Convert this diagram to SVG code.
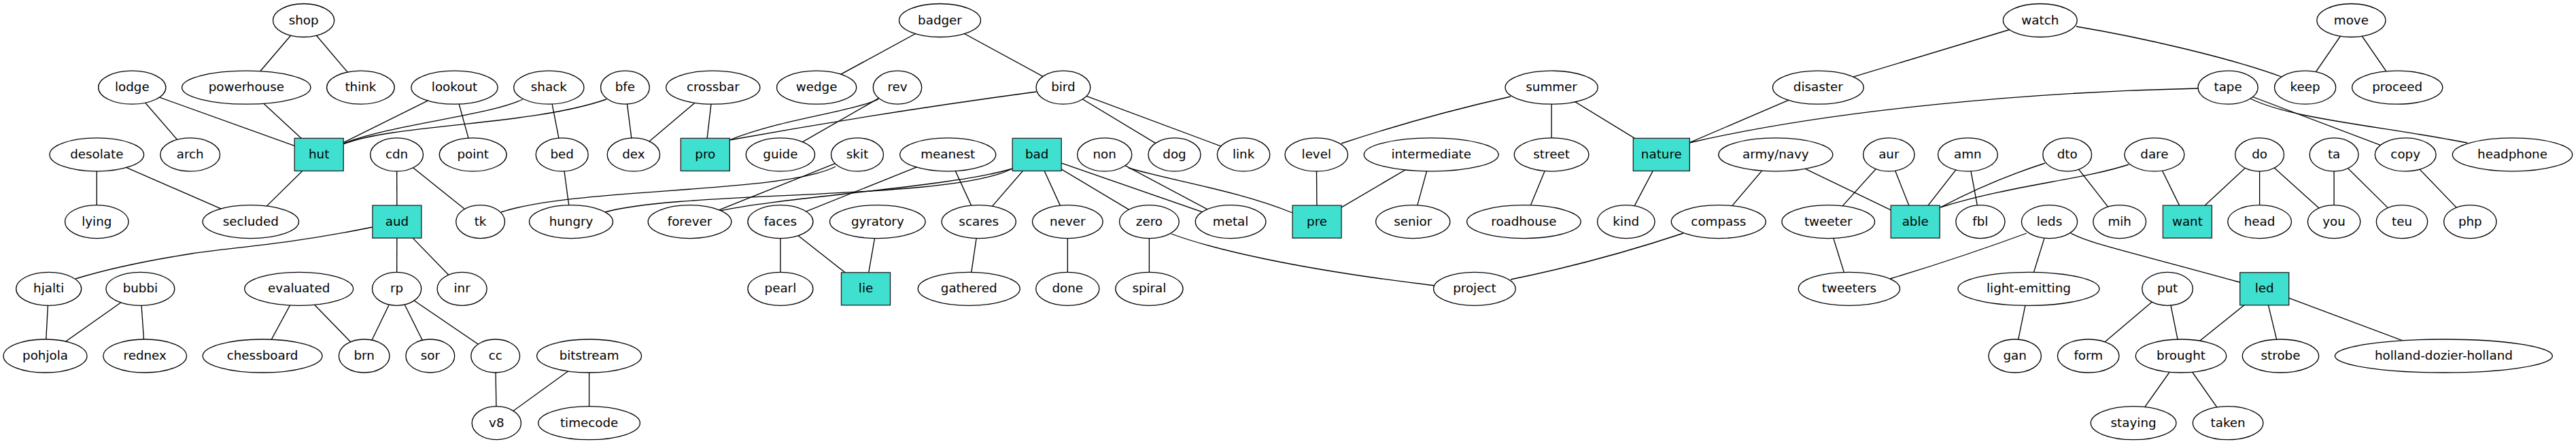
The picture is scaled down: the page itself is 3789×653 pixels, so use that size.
<svg xmlns="http://www.w3.org/2000/svg" width="3789" height="653" viewBox="0 0 3789 653">
<style>
.e path{fill:none;stroke:#000;stroke-width:1.33}
.n ellipse{fill:#fff;stroke:#000;stroke-width:1.33}
.b rect{fill:#40e0d0;stroke:#222;stroke-width:1.33}
text{font-family:"DejaVu Sans","Liberation Sans",sans-serif;font-size:18.3px;text-anchor:middle;fill:#000}
</style>
<rect width="3789" height="653" fill="#fff"/>
<g id="connectors" class="e">
<path d="M446.6,30L362.3,128.7"/>
<path d="M446.6,30L530.4,128.7"/>
<path d="M194.3,128.7L279.7,227.4"/>
<path d="M194.3,128.7L469.2,227.4"/>
<path d="M362.3,128.7L469.2,227.4"/>
<path d="M668.5,128.7L469.2,227.4"/>
<path d="M668.5,128.7L695.7,227.4"/>
<path d="M807.3,128.7L826.7,227.4"/>
<path d="M919.4,128.7L931.9,227.4"/>
<path d="M1048.8,128.7L931.9,227.4"/>
<path d="M1048.8,128.7L1037.3,227.4"/>
<path d="M1382.5,30L1201.1,128.7"/>
<path d="M1382.5,30L1563.9,128.7"/>
<path d="M1320,128.7L1147.9,227.4"/>
<path d="M1563.9,128.7L1727.5,227.4"/>
<path d="M1563.9,128.7L1829.1,227.4"/>
<path d="M469.2,227.4L368.8,326.1"/>
<path d="M142.3,227.4L142.3,326.1"/>
<path d="M142.3,227.4L368.8,326.1"/>
<path d="M583.6,227.4L583.9,326.1"/>
<path d="M583.6,227.4L706.6,326.1"/>
<path d="M583.9,326.1L583.6,424.8"/>
<path d="M583.9,326.1L679.6,424.8"/>
<path d="M71.7,424.8L66.5,523.5"/>
<path d="M206.4,424.8L66.5,523.5"/>
<path d="M206.4,424.8L213.2,523.5"/>
<path d="M439.7,424.8L386.1,523.5"/>
<path d="M439.7,424.8L535.7,523.5"/>
<path d="M583.6,424.8L535.7,523.5"/>
<path d="M583.6,424.8L632.8,523.5"/>
<path d="M583.6,424.8L728.7,523.5"/>
<path d="M728.7,523.5L730.3,622.2"/>
<path d="M866.6,523.5L730.3,622.2"/>
<path d="M866.6,523.5L866.6,622.2"/>
<path d="M826.7,227.4L840,326.1"/>
<path d="M1261,227.4L1014.5,326.1"/>
<path d="M1394.2,227.4L1147.9,326.1"/>
<path d="M1394.2,227.4L1439.7,326.1"/>
<path d="M1525.2,227.4L1439.7,326.1"/>
<path d="M1525.2,227.4L1570.3,326.1"/>
<path d="M1525.2,227.4L1690.4,326.1"/>
<path d="M1525.2,227.4L1810.1,326.1"/>
<path d="M1624.7,227.4L1810.1,326.1"/>
<path d="M1147.9,326.1L1147.9,424.8"/>
<path d="M1147.9,326.1L1273.5,424.8"/>
<path d="M1290.8,326.1L1273.5,424.8"/>
<path d="M1439.7,326.1L1425.2,424.8"/>
<path d="M1570.3,326.1L1570.3,424.8"/>
<path d="M1690.4,326.1L1690.4,424.8"/>
<path d="M1936.3,227.4L1937.1,326.1"/>
<path d="M2105.2,227.4L1937.1,326.1"/>
<path d="M2105.2,227.4L2078.2,326.1"/>
<path d="M2282.1,128.7L2282.1,227.4"/>
<path d="M2282.1,128.7L2443.8,227.4"/>
<path d="M2282.1,227.4L2241.4,326.1"/>
<path d="M2443.8,227.4L2391.8,326.1"/>
<path d="M2674.3,128.7L2443.8,227.4"/>
<path d="M3000.8,30L2674.3,128.7"/>
<path d="M3458.4,30L3390.6,128.7"/>
<path d="M3458.4,30L3526.2,128.7"/>
<path d="M3277.1,128.7L3538.2,227.4"/>
<path d="M3538.2,227.4L3633.3,326.1"/>
<path d="M2611.8,227.4L2527.8,326.1"/>
<path d="M2611.8,227.4L2817.2,326.1"/>
<path d="M2778.3,227.4L2689.2,326.1"/>
<path d="M2778.3,227.4L2817.2,326.1"/>
<path d="M2894.4,227.4L2817.2,326.1"/>
<path d="M2894.4,227.4L2912.9,326.1"/>
<path d="M3040.7,227.4L3117.7,326.1"/>
<path d="M3168.9,227.4L3217.4,326.1"/>
<path d="M3323.6,227.4L3217.4,326.1"/>
<path d="M3323.6,227.4L3323.6,326.1"/>
<path d="M3323.6,227.4L3433.1,326.1"/>
<path d="M3433.1,227.4L3433.1,326.1"/>
<path d="M3433.1,227.4L3533,326.1"/>
<path d="M2689.2,326.1L2719.9,424.8"/>
<path d="M3014.5,326.1L2983.9,424.8"/>
<path d="M2983.9,424.8L2963.7,523.5"/>
<path d="M3188.1,424.8L3071.7,523.5"/>
<path d="M3188.1,424.8L3208,523.5"/>
<path d="M3330.7,424.8L3208,523.5"/>
<path d="M3330.7,424.8L3354.5,523.5"/>
<path d="M3330.7,424.8L3594.4,523.5"/>
<path d="M3208,523.5L3138.1,622.2"/>
<path d="M3208,523.5L3277.1,622.2"/>
<path d="M548,334C420,360 340,364 282,373S160,395 111,410"/>
<path d="M737,312C850,275 1150,285 1229,245"/>
<path d="M890,312C1000,280 1400,295 1489,248"/>
<path d="M1059,310C1150,290 1400,275 1489,248"/>
<path d="M1660,247C1720,265 1820,280 1901,313"/>
<path d="M1723,344C1780,365 1900,395 2110,420"/>
<path d="M2476,343Q2350,385 2222,411"/>
<path d="M2222,142Q2090,172 1973,211"/>
<path d="M3233,130C3000,135 2700,160 2485,210"/>
<path d="M3054,39C3150,55 3280,85 3356,113"/>
<path d="M3310,145C3370,175 3500,185 3629,210"/>
<path d="M3131,242C3060,265 2960,272 2854,305"/>
<path d="M3008,240Q2930,265 2854,305"/>
<path d="M2981,343Q2880,380 2780,410"/>
<path d="M3046,343C3070,357 3120,367 3294,415"/>
<path d="M505,211C580,182 720,170 769,146"/>
<path d="M505,212C580,182 780,185 892,146"/>
<path d="M1292,146C1250,165 1150,175 1073,206"/>
<path d="M1524,135Q1300,165 1073,206"/>
</g>
<g id="n-shop" class="n"><ellipse cx="446.6" cy="30" rx="45.1" ry="24.5"/><text x="446.6" y="35.6">shop</text></g>
<g id="n-badger" class="n"><ellipse cx="1382.5" cy="30" rx="60" ry="24.5"/><text x="1382.5" y="35.6">badger</text></g>
<g id="n-watch" class="n"><ellipse cx="3000.8" cy="30" rx="54.4" ry="24.5"/><text x="3000.8" y="35.6">watch</text></g>
<g id="n-move" class="n"><ellipse cx="3458.4" cy="30" rx="50.5" ry="24.5"/><text x="3458.4" y="35.6">move</text></g>
<g id="n-lodge" class="n"><ellipse cx="194.3" cy="128.7" rx="49.6" ry="24.5"/><text x="194.3" y="134.3">lodge</text></g>
<g id="n-powerhouse" class="n"><ellipse cx="362.3" cy="128.7" rx="94.7" ry="24.5"/><text x="362.3" y="134.3">powerhouse</text></g>
<g id="n-think" class="n"><ellipse cx="530.4" cy="128.7" rx="49.8" ry="24.5"/><text x="530.4" y="134.3">think</text></g>
<g id="n-lookout" class="n"><ellipse cx="668.5" cy="128.7" rx="63.6" ry="24.5"/><text x="668.5" y="134.3">lookout</text></g>
<g id="n-shack" class="n"><ellipse cx="807.3" cy="128.7" rx="51.6" ry="24.5"/><text x="807.3" y="134.3">shack</text></g>
<g id="n-bfe" class="n"><ellipse cx="919.4" cy="128.7" rx="35.9" ry="24.5"/><text x="919.4" y="134.3">bfe</text></g>
<g id="n-crossbar" class="n"><ellipse cx="1048.8" cy="128.7" rx="69.1" ry="24.5"/><text x="1048.8" y="134.3">crossbar</text></g>
<g id="n-wedge" class="n"><ellipse cx="1201.1" cy="128.7" rx="58.6" ry="24.5"/><text x="1201.1" y="134.3">wedge</text></g>
<g id="n-rev" class="n"><ellipse cx="1320" cy="128.7" rx="35.7" ry="24.5"/><text x="1320" y="134.3">rev</text></g>
<g id="n-bird" class="n"><ellipse cx="1563.9" cy="128.7" rx="39.9" ry="24.5"/><text x="1563.9" y="134.3">bird</text></g>
<g id="n-summer" class="n"><ellipse cx="2282.1" cy="128.7" rx="68.1" ry="24.5"/><text x="2282.1" y="134.3">summer</text></g>
<g id="n-disaster" class="n"><ellipse cx="2674.3" cy="128.7" rx="66.9" ry="24.5"/><text x="2674.3" y="134.3">disaster</text></g>
<g id="n-tape" class="n"><ellipse cx="3277.1" cy="128.7" rx="44.1" ry="24.5"/><text x="3277.1" y="134.3">tape</text></g>
<g id="n-keep" class="n"><ellipse cx="3390.6" cy="128.7" rx="45.1" ry="24.5"/><text x="3390.6" y="134.3">keep</text></g>
<g id="n-proceed" class="n"><ellipse cx="3526.2" cy="128.7" rx="66.6" ry="24.5"/><text x="3526.2" y="134.3">proceed</text></g>
<g id="n-desolate" class="n"><ellipse cx="142.3" cy="227.4" rx="69.3" ry="24.5"/><text x="142.3" y="233">desolate</text></g>
<g id="n-arch" class="n"><ellipse cx="279.7" cy="227.4" rx="43.9" ry="24.5"/><text x="279.7" y="233">arch</text></g>
<g id="n-hut" class="b"><rect x="433.2" y="203.4" width="72" height="48"/><text x="469.2" y="233">hut</text></g>
<g id="n-cdn" class="n"><ellipse cx="583.6" cy="227.4" rx="38.9" ry="24.5"/><text x="583.6" y="233">cdn</text></g>
<g id="n-point" class="n"><ellipse cx="695.7" cy="227.4" rx="49.4" ry="24.5"/><text x="695.7" y="233">point</text></g>
<g id="n-bed" class="n"><ellipse cx="826.7" cy="227.4" rx="38.5" ry="24.5"/><text x="826.7" y="233">bed</text></g>
<g id="n-dex" class="n"><ellipse cx="931.9" cy="227.4" rx="38.7" ry="24.5"/><text x="931.9" y="233">dex</text></g>
<g id="n-pro" class="b"><rect x="1001.3" y="203.4" width="72" height="48"/><text x="1037.3" y="233">pro</text></g>
<g id="n-guide" class="n"><ellipse cx="1147.9" cy="227.4" rx="50.6" ry="24.5"/><text x="1147.9" y="233">guide</text></g>
<g id="n-skit" class="n"><ellipse cx="1261" cy="227.4" rx="38.5" ry="24.5"/><text x="1261" y="233">skit</text></g>
<g id="n-meanest" class="n"><ellipse cx="1394.2" cy="227.4" rx="70.5" ry="24.5"/><text x="1394.2" y="233">meanest</text></g>
<g id="n-bad" class="b"><rect x="1489.2" y="203.4" width="72" height="48"/><text x="1525.2" y="233">bad</text></g>
<g id="n-non" class="n"><ellipse cx="1624.7" cy="227.4" rx="40.1" ry="24.5"/><text x="1624.7" y="233">non</text></g>
<g id="n-dog" class="n"><ellipse cx="1727.5" cy="227.4" rx="38.5" ry="24.5"/><text x="1727.5" y="233">dog</text></g>
<g id="n-link" class="n"><ellipse cx="1829.1" cy="227.4" rx="38.7" ry="24.5"/><text x="1829.1" y="233">link</text></g>
<g id="n-level" class="n"><ellipse cx="1936.3" cy="227.4" rx="46.3" ry="24.5"/><text x="1936.3" y="233">level</text></g>
<g id="n-intermediate" class="n"><ellipse cx="2105.2" cy="227.4" rx="98.9" ry="24.5"/><text x="2105.2" y="233">intermediate</text></g>
<g id="n-street" class="n"><ellipse cx="2282.1" cy="227.4" rx="54.8" ry="24.5"/><text x="2282.1" y="233">street</text></g>
<g id="n-nature" class="b"><rect x="2402.3" y="203.4" width="83" height="48"/><text x="2443.8" y="233">nature</text></g>
<g id="n-army-navy" class="n"><ellipse cx="2611.8" cy="227.4" rx="84" ry="24.5"/><text x="2611.8" y="233">army/navy</text></g>
<g id="n-aur" class="n"><ellipse cx="2778.3" cy="227.4" rx="37.7" ry="24.5"/><text x="2778.3" y="233">aur</text></g>
<g id="n-amn" class="n"><ellipse cx="2894.4" cy="227.4" rx="43.9" ry="24.5"/><text x="2894.4" y="233">amn</text></g>
<g id="n-dto" class="n"><ellipse cx="3040.7" cy="227.4" rx="35.9" ry="24.5"/><text x="3040.7" y="233">dto</text></g>
<g id="n-dare" class="n"><ellipse cx="3168.9" cy="227.4" rx="44" ry="24.5"/><text x="3168.9" y="233">dare</text></g>
<g id="n-do" class="n"><ellipse cx="3323.6" cy="227.4" rx="35.9" ry="24.5"/><text x="3323.6" y="233">do</text></g>
<g id="n-ta" class="n"><ellipse cx="3433.1" cy="227.4" rx="35.9" ry="24.5"/><text x="3433.1" y="233">ta</text></g>
<g id="n-copy" class="n"><ellipse cx="3538.2" cy="227.4" rx="44.9" ry="24.5"/><text x="3538.2" y="233">copy</text></g>
<g id="n-headphone" class="n"><ellipse cx="3695.5" cy="227.4" rx="88.2" ry="24.5"/><text x="3695.5" y="233">headphone</text></g>
<g id="n-lying" class="n"><ellipse cx="142.3" cy="326.1" rx="46.8" ry="24.5"/><text x="142.3" y="331.7">lying</text></g>
<g id="n-secluded" class="n"><ellipse cx="368.8" cy="326.1" rx="70.7" ry="24.5"/><text x="368.8" y="331.7">secluded</text></g>
<g id="n-aud" class="b"><rect x="547.9" y="302.1" width="72" height="48"/><text x="583.9" y="331.7">aud</text></g>
<g id="n-tk" class="n"><ellipse cx="706.6" cy="326.1" rx="35.9" ry="24.5"/><text x="706.6" y="331.7">tk</text></g>
<g id="n-hungry" class="n"><ellipse cx="840" cy="326.1" rx="61.5" ry="24.5"/><text x="840" y="331.7">hungry</text></g>
<g id="n-forever" class="n"><ellipse cx="1014.5" cy="326.1" rx="61.3" ry="24.5"/><text x="1014.5" y="331.7">forever</text></g>
<g id="n-faces" class="n"><ellipse cx="1147.9" cy="326.1" rx="48" ry="24.5"/><text x="1147.9" y="331.7">faces</text></g>
<g id="n-gyratory" class="n"><ellipse cx="1290.8" cy="326.1" rx="70.3" ry="24.5"/><text x="1290.8" y="331.7">gyratory</text></g>
<g id="n-scares" class="n"><ellipse cx="1439.7" cy="326.1" rx="54.6" ry="24.5"/><text x="1439.7" y="331.7">scares</text></g>
<g id="n-never" class="n"><ellipse cx="1570.3" cy="326.1" rx="51.8" ry="24.5"/><text x="1570.3" y="331.7">never</text></g>
<g id="n-zero" class="n"><ellipse cx="1690.4" cy="326.1" rx="43.9" ry="24.5"/><text x="1690.4" y="331.7">zero</text></g>
<g id="n-metal" class="n"><ellipse cx="1810.1" cy="326.1" rx="51.8" ry="24.5"/><text x="1810.1" y="331.7">metal</text></g>
<g id="n-pre" class="b"><rect x="1901.1" y="302.1" width="72" height="48"/><text x="1937.1" y="331.7">pre</text></g>
<g id="n-senior" class="n"><ellipse cx="2078.2" cy="326.1" rx="54.6" ry="24.5"/><text x="2078.2" y="331.7">senior</text></g>
<g id="n-roadhouse" class="n"><ellipse cx="2241.4" cy="326.1" rx="83.8" ry="24.5"/><text x="2241.4" y="331.7">roadhouse</text></g>
<g id="n-kind" class="n"><ellipse cx="2391.8" cy="326.1" rx="42.3" ry="24.5"/><text x="2391.8" y="331.7">kind</text></g>
<g id="n-compass" class="n"><ellipse cx="2527.8" cy="326.1" rx="69.5" ry="24.5"/><text x="2527.8" y="331.7">compass</text></g>
<g id="n-tweeter" class="n"><ellipse cx="2689.2" cy="326.1" rx="68.3" ry="24.5"/><text x="2689.2" y="331.7">tweeter</text></g>
<g id="n-able" class="b"><rect x="2781.2" y="302.1" width="72" height="48"/><text x="2817.2" y="331.7">able</text></g>
<g id="n-fbl" class="n"><ellipse cx="2912.9" cy="326.1" rx="36.1" ry="24.5"/><text x="2912.9" y="331.7">fbl</text></g>
<g id="n-leds" class="n"><ellipse cx="3014.5" cy="326.1" rx="41.1" ry="24.5"/><text x="3014.5" y="331.7">leds</text></g>
<g id="n-mih" class="n"><ellipse cx="3117.7" cy="326.1" rx="38.9" ry="24.5"/><text x="3117.7" y="331.7">mih</text></g>
<g id="n-want" class="b"><rect x="3181.4" y="302.1" width="72" height="48"/><text x="3217.4" y="331.7">want</text></g>
<g id="n-head" class="n"><ellipse cx="3323.6" cy="326.1" rx="46.9" ry="24.5"/><text x="3323.6" y="331.7">head</text></g>
<g id="n-you" class="n"><ellipse cx="3433.1" cy="326.1" rx="38.7" ry="24.5"/><text x="3433.1" y="331.7">you</text></g>
<g id="n-teu" class="n"><ellipse cx="3533" cy="326.1" rx="37.7" ry="24.5"/><text x="3533" y="331.7">teu</text></g>
<g id="n-php" class="n"><ellipse cx="3633.3" cy="326.1" rx="38.7" ry="24.5"/><text x="3633.3" y="331.7">php</text></g>
<g id="n-hjalti" class="n"><ellipse cx="71.7" cy="424.8" rx="48" ry="24.5"/><text x="71.7" y="430.4">hjalti</text></g>
<g id="n-bubbi" class="n"><ellipse cx="206.4" cy="424.8" rx="50.4" ry="24.5"/><text x="206.4" y="430.4">bubbi</text></g>
<g id="n-evaluated" class="n"><ellipse cx="439.7" cy="424.8" rx="80" ry="24.5"/><text x="439.7" y="430.4">evaluated</text></g>
<g id="n-rp" class="n"><ellipse cx="583.6" cy="424.8" rx="36.1" ry="24.5"/><text x="583.6" y="430.4">rp</text></g>
<g id="n-inr" class="n"><ellipse cx="679.6" cy="424.8" rx="36.5" ry="24.5"/><text x="679.6" y="430.4">inr</text></g>
<g id="n-pearl" class="n"><ellipse cx="1147.9" cy="424.8" rx="48" ry="24.5"/><text x="1147.9" y="430.4">pearl</text></g>
<g id="n-lie" class="b"><rect x="1237.5" y="400.8" width="72" height="48"/><text x="1273.5" y="430.4">lie</text></g>
<g id="n-gathered" class="n"><ellipse cx="1425.2" cy="424.8" rx="75" ry="24.5"/><text x="1425.2" y="430.4">gathered</text></g>
<g id="n-done" class="n"><ellipse cx="1570.3" cy="424.8" rx="46.6" ry="24.5"/><text x="1570.3" y="430.4">done</text></g>
<g id="n-spiral" class="n"><ellipse cx="1690.4" cy="424.8" rx="49.6" ry="24.5"/><text x="1690.4" y="430.4">spiral</text></g>
<g id="n-project" class="n"><ellipse cx="2168.9" cy="424.8" rx="60.3" ry="24.5"/><text x="2168.9" y="430.4">project</text></g>
<g id="n-tweeters" class="n"><ellipse cx="2719.9" cy="424.8" rx="74.6" ry="24.5"/><text x="2719.9" y="430.4">tweeters</text></g>
<g id="n-light-emitting" class="n"><ellipse cx="2983.9" cy="424.8" rx="104" ry="24.5"/><text x="2983.9" y="430.4">light-emitting</text></g>
<g id="n-put" class="n"><ellipse cx="3188.1" cy="424.8" rx="37.3" ry="24.5"/><text x="3188.1" y="430.4">put</text></g>
<g id="n-led" class="b"><rect x="3294.7" y="400.8" width="72" height="48"/><text x="3330.7" y="430.4">led</text></g>
<g id="n-pohjola" class="n"><ellipse cx="66.5" cy="523.5" rx="61.5" ry="24.5"/><text x="66.5" y="529.1">pohjola</text></g>
<g id="n-rednex" class="n"><ellipse cx="213.2" cy="523.5" rx="61.3" ry="24.5"/><text x="213.2" y="529.1">rednex</text></g>
<g id="n-chessboard" class="n"><ellipse cx="386.1" cy="523.5" rx="87.9" ry="24.5"/><text x="386.1" y="529.1">chessboard</text></g>
<g id="n-brn" class="n"><ellipse cx="535.7" cy="523.5" rx="37.3" ry="24.5"/><text x="535.7" y="529.1">brn</text></g>
<g id="n-sor" class="n"><ellipse cx="632.8" cy="523.5" rx="35.9" ry="24.5"/><text x="632.8" y="529.1">sor</text></g>
<g id="n-cc" class="n"><ellipse cx="728.7" cy="523.5" rx="35.9" ry="24.5"/><text x="728.7" y="529.1">cc</text></g>
<g id="n-bitstream" class="n"><ellipse cx="866.6" cy="523.5" rx="77" ry="24.5"/><text x="866.6" y="529.1">bitstream</text></g>
<g id="n-gan" class="n"><ellipse cx="2963.7" cy="523.5" rx="38.7" ry="24.5"/><text x="2963.7" y="529.1">gan</text></g>
<g id="n-form" class="n"><ellipse cx="3071.7" cy="523.5" rx="45.3" ry="24.5"/><text x="3071.7" y="529.1">form</text></g>
<g id="n-brought" class="n"><ellipse cx="3208" cy="523.5" rx="66.7" ry="24.5"/><text x="3208" y="529.1">brought</text></g>
<g id="n-strobe" class="n"><ellipse cx="3354.5" cy="523.5" rx="56.2" ry="24.5"/><text x="3354.5" y="529.1">strobe</text></g>
<g id="n-holland-dozier-holland" class="n"><ellipse cx="3594.4" cy="523.5" rx="160" ry="24.5"/><text x="3594.4" y="529.1">holland-dozier-holland</text></g>
<g id="n-v8" class="n"><ellipse cx="730.3" cy="622.2" rx="36.1" ry="24.5"/><text x="730.3" y="627.8">v8</text></g>
<g id="n-timecode" class="n"><ellipse cx="866.6" cy="622.2" rx="74.8" ry="24.5"/><text x="866.6" y="627.8">timecode</text></g>
<g id="n-staying" class="n"><ellipse cx="3138.1" cy="622.2" rx="62.8" ry="24.5"/><text x="3138.1" y="627.8">staying</text></g>
<g id="n-taken" class="n"><ellipse cx="3277.1" cy="622.2" rx="51.7" ry="24.5"/><text x="3277.1" y="627.8">taken</text></g>
</svg>
